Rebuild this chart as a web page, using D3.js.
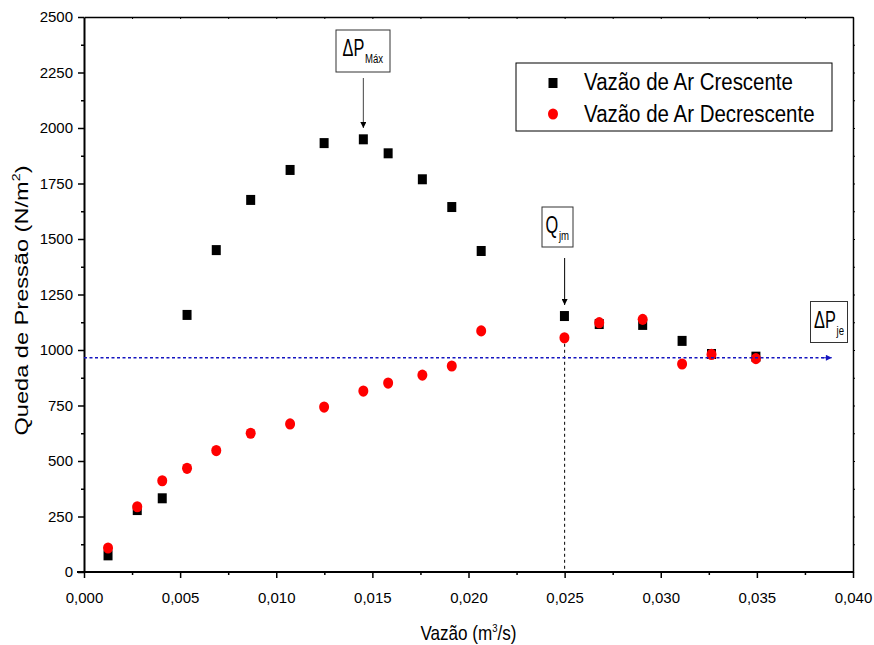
<!DOCTYPE html>
<html lang="pt">

<head>
    <meta charset="UTF-8">
    <title>Queda de Pressão x Vazão</title>
    <script src="https://d3js.org/d3.v7.min.js"></script>
    <style>
        body,
        html {
            margin: 0px;
            background: white;
        }

        svg text {
            font-family: Arial, "Liberation Sans", sans-serif;
            fill: #000;
        }
    </style>
</head>

<body>
    <div id="chart"></div>

    <script>
        // vazão (m3/s) de cada ponto medido
        const vazao = [0.00125, 0.00277, 0.00407, 0.00536, 0.00688, 0.00867, 0.01072, 0.01249, 0.01453, 0.01582,
            0.0176, 0.01913, 0.02066, 0.02499, 0.0268, 0.02906, 0.03111, 0.03264, 0.03495]
        // queda de pressão (N/m2)
        const crescente = [75, 279, 332, 1158, 1450, 1676, 1811, 1932, 1949, 1886, 1769, 1644, 1446, 1153, 1117, 1113, 1041, 982, 970]
        const decrescente = [108, 294, 411, 467, 547, 625, 667, 743, 815, 851, 887, 928, 1086, 1055, 1123, 1138, 937, 980, 961]

        const xTicks = [0, 0.005, 0.01, 0.015, 0.02, 0.025, 0.03, 0.035, 0.04]
        const yTicks = [0, 250, 500, 750, 1000, 1250, 1500, 1750, 2000, 2250, 2500]
        const legendLabels = ["Vazão de Ar Crescente", "Vazão de Ar Decrescente"]

        const qjm = 0.025      // vazão de jorro mínimo
        const qjmPressao = 1055
        const dPje = 965       // queda de pressão de jorro estável
        const dPmaxVazao = 0.01453

        const width = 874, height = 645
        const mLeft = 84, mRight = 853, mTop = 17, mBottom = 572

        const locale = d3.formatLocale({ decimal: ",", thousands: ".", grouping: [3] })
        const fmtX = locale.format(".3f")

        const x = d3.scaleLinear().domain([0, 0.04]).range([mLeft, mRight])
        const y = d3.scaleLinear().domain([0, 2500]).range([mBottom, mTop])

        const svg = d3.select("#chart")
            .append("svg")
            .attr("width", width)
            .attr("height", height)

        const defs = svg.append("defs")
        function marker(id, color) {
            defs.append("marker")
                .attr("id", id)
                .attr("viewBox", "0 0 10 10")
                .attr("refX", 10).attr("refY", 5)
                .attr("markerWidth", 10).attr("markerHeight", 6)
                .attr("markerUnits", "userSpaceOnUse")
                .attr("orient", "auto")
                .append("path")
                .attr("d", "M0,0L10,5L0,10Z")
                .attr("fill", color)
        }
        marker("arrBlack", "#000")
        marker("arrBlue", "#1515c0")

        // eixo inferior
        const xAxis = svg.append("g")
            .attr("transform", `translate(0,${mBottom})`)
            .call(d3.axisBottom(x).tickValues(xTicks).tickFormat(fmtX).tickSize(6).tickSizeOuter(0))
        xAxis.select(".domain").attr("stroke-width", 2).attr("d", `M${mLeft - 7},0H${mRight}`)
        xAxis.selectAll(".tick line").attr("stroke-width", 1.5)
        xAxis.selectAll(".tick text").attr("dy", "1.45em").style("font-size", "15px")
        // minor
        svg.append("g").attr("transform", `translate(0,${mBottom})`)
            .call(d3.axisBottom(x).tickValues(d3.range(8).map(i => 0.0025 + i * 0.005)).tickFormat("").tickSize(3).tickSizeOuter(0))
            .call(g => g.select(".domain").remove())
            .selectAll(".tick line").attr("stroke-width", 1.5)

        // eixo esquerdo
        const yAxis = svg.append("g")
            .attr("transform", `translate(${mLeft},0)`)
            .call(d3.axisLeft(y).tickValues(yTicks).tickFormat(d3.format("d")).tickSize(6).tickSizeOuter(0))
        yAxis.select(".domain").attr("stroke-width", 2)
        yAxis.selectAll(".tick line").attr("stroke-width", 1.5)
        yAxis.selectAll(".tick text").attr("x", -11).style("font-size", "15px")
        svg.append("g").attr("transform", `translate(${mLeft},0)`)
            .call(d3.axisLeft(y).tickValues(d3.range(10).map(i => 125 + i * 250)).tickFormat("").tickSize(3).tickSizeOuter(0))
            .call(g => g.select(".domain").remove())
            .selectAll(".tick line").attr("stroke-width", 1.5)

        // eixos superior e direito (moldura)
        svg.append("g").attr("transform", `translate(0,${mTop})`)
            .call(d3.axisTop(x).tickValues(d3.range(16).map(i => 0.0025 + i * 0.0025)).tickFormat("").tickSize(-2).tickSizeOuter(0))
            .call(g => g.select(".domain").attr("stroke-width", 1.5))
        svg.append("g").attr("transform", `translate(${mRight},0)`)
            .call(d3.axisRight(y).tickValues(d3.range(19).map(i => 125 + i * 125)).tickFormat("").tickSize(2).tickSizeOuter(0))
            .call(g => g.select(".domain").attr("stroke-width", 1.5))

        // títulos dos eixos
        const xt = svg.append("text")
            .attr("transform", `translate(${x(0.02)},640) scale(0.95,1.1)`)
            .attr("text-anchor", "middle")
            .style("font-size", "18px")
        xt.append("tspan").text("Vazão (m")
        xt.append("tspan").attr("dy", -7).style("font-size", "10px").text("3")
        xt.append("tspan").attr("dy", 7).text("/s)")

        const yt = svg.append("text")
            .attr("transform", `translate(28,${(mTop + mBottom) / 2 + 6}) rotate(-90) scale(1.31,1)`)
            .attr("text-anchor", "middle")
            .style("font-size", "18px")
        yt.append("tspan").text("Queda de Pressão (N/m")
        yt.append("tspan").attr("dy", -8).style("font-size", "11px").text("2")
        yt.append("tspan").attr("dy", 8).text(")")

        // linhas de referência
        svg.append("line")
            .attr("x1", x(qjm)).attr("x2", x(qjm))
            .attr("y1", y(qjmPressao)).attr("y2", y(0))
            .attr("stroke", "#000").attr("stroke-width", 1)
            .attr("stroke-dasharray", "3,3")

        // pontos
        svg.append("g").selectAll("rect")
            .data(vazao.map((v, i) => [v, crescente[i]]))
            .join("rect")
            .attr("x", d => x(d[0]) - 4.5)
            .attr("y", d => y(d[1]) - 5)
            .attr("width", 9).attr("height", 10)
            .attr("fill", "#000")

        svg.append("g").selectAll("ellipse")
            .data(vazao.map((v, i) => [v, decrescente[i]]))
            .join("ellipse")
            .attr("cx", d => x(d[0]))
            .attr("cy", d => y(d[1]))
            .attr("rx", 5).attr("ry", 5.6)
            .attr("fill", "#ff0000")

        svg.append("line")
            .attr("x1", mLeft).attr("x2", x(0.0388))
            .attr("y1", y(dPje)).attr("y2", y(dPje))
            .attr("stroke", "#1515c0").attr("stroke-width", 1.3)
            .attr("stroke-dasharray", "3,2.5")
        svg.append("line")
            .attr("x1", x(0.0384)).attr("x2", x(0.0389))
            .attr("y1", y(dPje)).attr("y2", y(dPje))
            .attr("stroke", "#1515c0").attr("stroke-width", 1)
            .attr("marker-end", "url(#arrBlue)")

        // anotações
        function caixa(x0, y0, w, h, main, sub, tx, ty, subDy) {
            svg.append("rect")
                .attr("x", x0).attr("y", y0).attr("width", w).attr("height", h)
                .attr("fill", "white").attr("stroke", "#333").attr("stroke-width", 1)
            const t = svg.append("text")
                .attr("transform", `translate(${tx},${ty}) scale(0.71,1)`)
                .style("font-size", "23px")
            t.append("tspan").text(main)
            t.append("tspan").attr("dx", 1).attr("dy", subDy).style("font-size", "13.5px").text(sub)
        }

        caixa(336, 30, 54, 42, "\u0394P", "Máx", 342.5, 56, 7)
        svg.append("line")
            .attr("x1", x(dPmaxVazao)).attr("x2", x(dPmaxVazao))
            .attr("y1", 78).attr("y2", 128)
            .attr("stroke", "#444").attr("stroke-width", 1)
            .attr("marker-end", "url(#arrBlack)")

        caixa(542, 207, 31, 40, "Q", "jm", 545.5, 232.5, 7.5)
        svg.append("line")
            .attr("x1", x(qjm)).attr("x2", x(qjm))
            .attr("y1", 258).attr("y2", 305)
            .attr("stroke", "#000").attr("stroke-width", 1)
            .attr("marker-end", "url(#arrBlack)")

        caixa(810.5, 301.5, 37, 41, "\u0394P", "je", 814, 328, 7)

        // legenda
        const lg = svg.append("g")
        lg.append("rect")
            .attr("x", 516).attr("y", 63).attr("width", 316).attr("height", 68)
            .attr("fill", "white").attr("stroke", "#000").attr("stroke-width", 1)
        lg.append("rect")
            .attr("x", 553 - 4.5).attr("y", 83 - 5).attr("width", 9).attr("height", 10)
            .attr("fill", "#000")
        lg.append("ellipse")
            .attr("cx", 553).attr("cy", 114).attr("rx", 5).attr("ry", 5.6)
            .attr("fill", "#ff0000")
        lg.selectAll(".lt")
            .data(legendLabels)
            .join("text")
            .attr("class", "lt")
            .attr("transform", (d, i) => `translate(584,${90 + i * 31.5}) scale(0.89,1)`)
            .style("font-size", "23px")
            .text(d => d)
    </script>
</body>

</html>
